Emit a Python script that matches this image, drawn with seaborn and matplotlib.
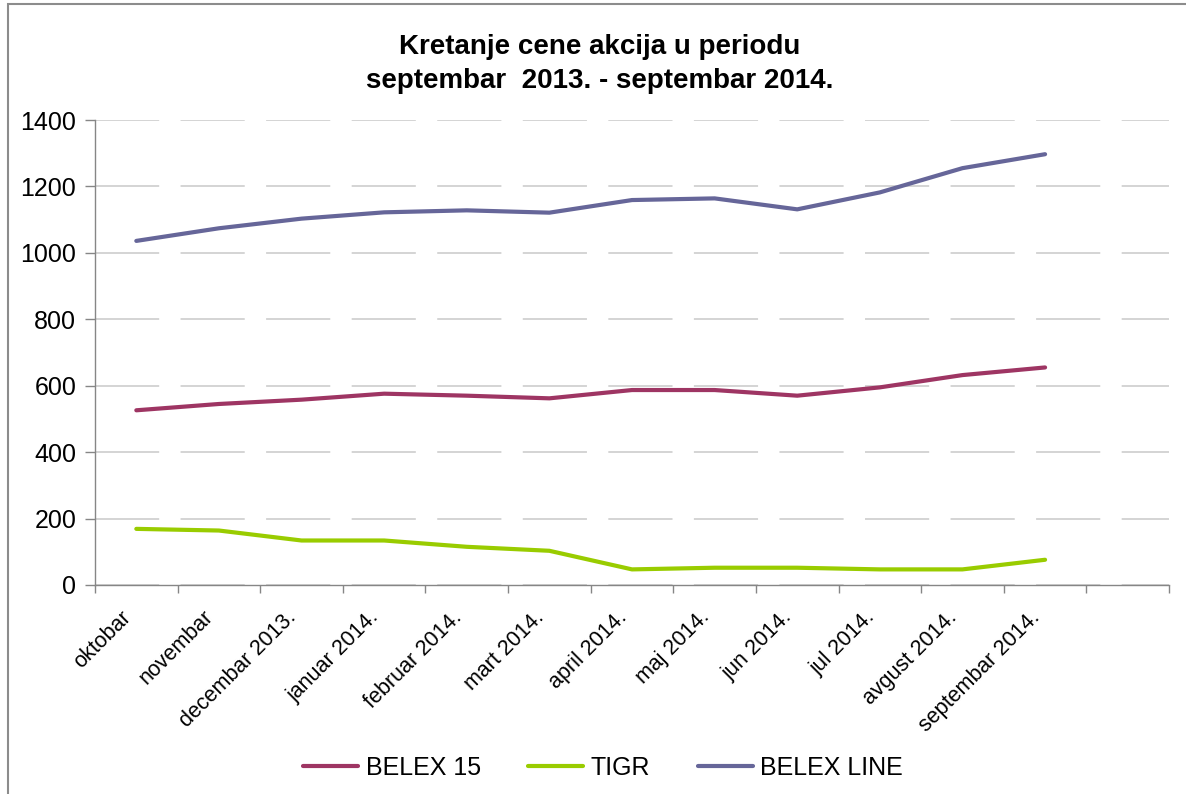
import matplotlib
matplotlib.use("Agg")
import matplotlib.pyplot as plt
from matplotlib.patches import Rectangle
from matplotlib.ticker import FixedLocator, MultipleLocator
from matplotlib.transforms import offset_copy
import seaborn as sns
import pandas as pd

MONTHS = [
    "oktobar", "novembar", "decembar 2013.", "januar 2014.", "februar 2014.",
    "mart 2014.", "april 2014.", "maj 2014.", "jun 2014.", "jul 2014.",
    "avgust 2014.", "septembar 2014.",
]
BELEX15 = [526, 545, 558, 576, 570, 562, 587, 587, 570, 595, 632, 655]
TIGR = [169, 164, 134, 134, 115, 103, 47, 52, 52, 47, 47, 76]
BELEXLINE = [1036, 1074, 1103, 1122, 1128, 1121, 1159, 1164, 1131, 1182, 1255, 1297]

SERIES = ["BELEX 15", "TIGR", "BELEX LINE"]
COLORS = ["#9e3563", "#99cc00", "#666699"]

TITLE = "Kretanje cene akcija u periodu\nseptembar  2013. - septembar 2014."


def main():
    df = pd.DataFrame({
        "mesec": MONTHS * 3,
        "cena": BELEX15 + TIGR + BELEXLINE,
        "indeks": [s for s in SERIES for _ in MONTHS],
    })

    sns.set_style("white")
    plt.rcParams["font.family"] = ["Liberation Sans", "DejaVu Sans"]
    plt.rcParams["text.color"] = "black"
    plt.rcParams["xtick.color"] = "black"
    plt.rcParams["ytick.color"] = "black"

    W, H = 1186, 794
    fig = plt.figure(figsize=(W / 100, H / 100), dpi=100)
    ax = fig.add_axes([95 / W, 1 - 585 / H, (1169 - 95) / W, (585 - 120) / H])

    sns.lineplot(
        data=df, x="mesec", y="cena", hue="indeks", hue_order=SERIES,
        palette=COLORS, linewidth=3.0, sort=False, ax=ax, legend=True,
    )
    for line in ax.lines:
        line.set_solid_capstyle("round")

    ax.set_xlim(-0.5, 12.5)
    ax.set_ylim(0, 1400)
    ax.yaxis.set_major_locator(MultipleLocator(200))
    ax.set_xlabel("")
    ax.set_ylabel("")

    # tick marks on category boundaries, labels drawn at the centers
    ax.xaxis.set_major_locator(FixedLocator([i - 0.5 for i in range(14)]))
    ax.set_xticklabels([])
    ax.tick_params(axis="x", length=6, width=1, color="#868686", direction="out",
                   bottom=True)
    lab_tr = offset_copy(ax.get_xaxis_transform(), fig=fig, x=-6, y=-21, units="points")
    for i, name in enumerate(MONTHS):
        ax.text(i, 0, name, transform=lab_tr, rotation=45, rotation_mode="anchor",
                ha="right", va="center", fontsize=15.5)

    ax.tick_params(axis="y", length=7, width=1, color="#868686", direction="out",
                   left=True, labelsize=18, labelcolor="black", pad=6.5)

    ax.grid(axis="y", color="#d4d4d4", linewidth=1.4, linestyle=(0, (33, 11)))
    ax.set_axisbelow(True)
    for side in ["top", "right"]:
        ax.spines[side].set_visible(False)
    for side in ["left", "bottom"]:
        ax.spines[side].set_color("#868686")
        ax.spines[side].set_linewidth(1)

    handles, labels = ax.get_legend_handles_labels()
    ax.get_legend().remove()
    fig.legend(
        handles, labels, loc="center", bbox_to_anchor=(603 / W, 1 - 768 / H),
        ncol=3, frameon=False, fontsize=18, handlelength=2.2,
        handletextpad=0.3, columnspacing=1.9,
    )

    fig.text(600 / W, 1 - 64 / H, TITLE, ha="center", va="center",
             fontsize=20, fontweight="bold", linespacing=1.4, color="black")

    fig.patches.append(Rectangle((8 / W, -0.1), 1.2, 1 - 4 / H + 0.1,
                                 transform=fig.transFigure, fill=False,
                                 edgecolor="#8c8c8c", linewidth=1.5))

    fig.savefig("out.png", dpi=100)
    plt.close(fig)


if __name__ == "__main__":
    main()
